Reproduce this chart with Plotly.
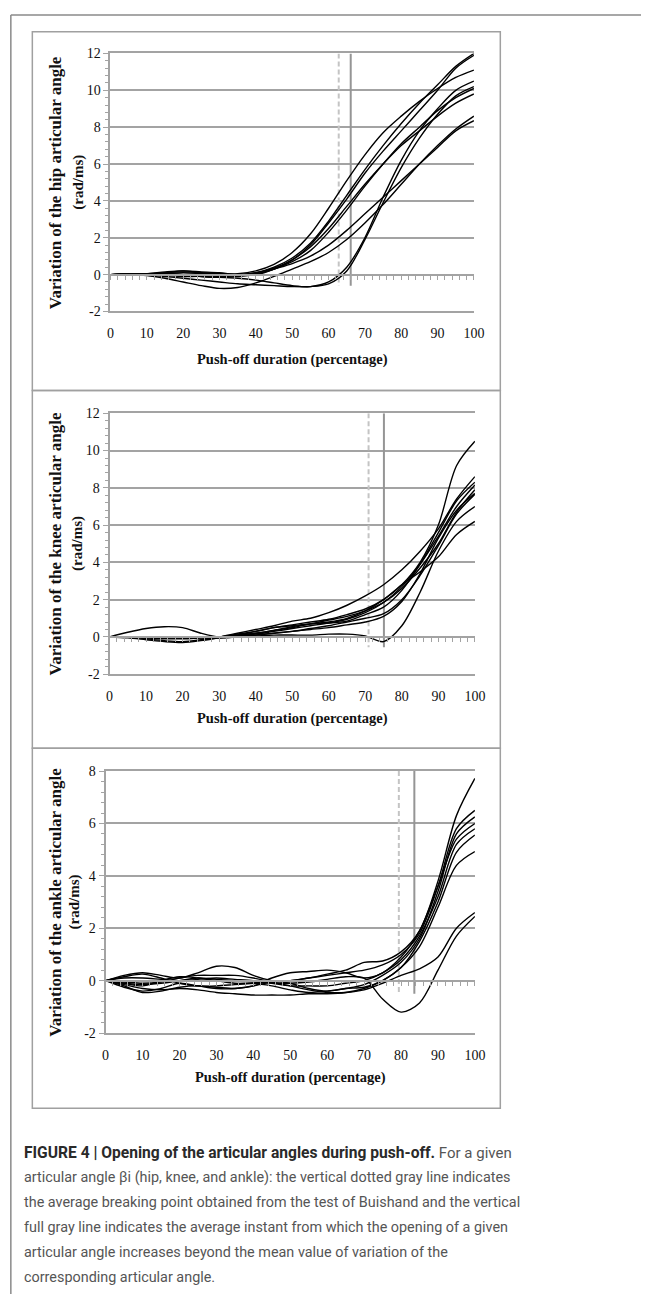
import plotly.graph_objects as go

W, H = 652, 1302

# ---------------- data ----------------
x_pct = [0, 5, 10, 15, 20, 25, 30, 35, 40, 45, 50, 55, 60, 65, 70, 75, 80, 85, 90, 95, 100]

hip_curves = [
    [0, 0.05, 0.05, 0.1, 0.15, 0.1, 0.05, 0.05, 0.2, 0.55, 1.2, 2.2, 3.6, 5.1, 6.5, 7.7, 8.6, 9.4, 10.1, 10.7, 11.1],
    [0, 0, 0, 0.05, 0.1, 0.05, 0, 0, 0.1, 0.4, 0.9, 1.7, 2.9, 4.3, 5.7, 7.0, 8.2, 9.3, 10.3, 11.3, 12.0],
    [0, 0.05, 0, 0, 0, -0.05, -0.1, -0.05, 0.1, 0.35, 0.8, 1.6, 2.8, 4.1, 5.5, 6.7, 7.8, 8.9, 10.0, 11.2, 11.9],
    [0, 0, 0, 0.1, 0.2, 0.15, 0.1, 0, 0, 0.3, 0.8, 1.5, 2.5, 3.7, 4.9, 6.0, 7.0, 7.8, 8.6, 9.3, 9.8],
    [0, 0, 0.05, 0.05, 0, -0.1, -0.15, -0.1, 0, 0.3, 0.6, 1.0, 1.6, 2.4, 3.3, 4.2, 5.1, 6.0, 6.9, 7.8, 8.35],
    [0, 0, 0, -0.1, -0.2, -0.3, -0.4, -0.5, -0.55, -0.6, -0.65, -0.65, -0.5, 0.2, 1.9, 3.9, 5.8, 7.4, 8.7, 9.7, 10.2],
    [0, 0, -0.05, -0.2, -0.4, -0.6, -0.75, -0.7, -0.45, -0.1, 0.3, 0.7, 1.2, 1.9, 2.8, 3.8, 4.9, 6.0, 7.0, 7.9, 8.6],
    [0, 0, 0, -0.05, -0.1, -0.1, -0.15, -0.2, -0.3, -0.45, -0.6, -0.65, -0.4, 0.4, 2.0, 4.2, 6.2, 7.8, 9.0, 10.0, 10.5],
    [0, 0.05, 0.05, 0.15, 0.2, 0.1, 0.05, 0, 0.05, 0.3, 0.7, 1.3, 2.3, 3.5, 4.8, 6.0, 7.1, 8.0, 8.9, 9.6, 10.1],
]

knee_curves = [
    [0, 0, -0.1, -0.2, -0.25, -0.15, 0, 0.2, 0.4, 0.6, 0.85, 1.0, 1.3, 1.7, 2.2, 2.8, 3.6, 4.6, 5.8, 7.4, 8.6],
    [0, 0, -0.05, -0.1, -0.1, -0.05, 0, 0.15, 0.3, 0.5, 0.65, 0.8, 0.95, 1.2, 1.5, 2.0, 2.8, 4.0, 6.0, 9.2, 10.5],
    [0, 0.25, 0.45, 0.55, 0.5, 0.2, 0, 0.05, 0.15, 0.3, 0.45, 0.6, 0.75, 0.95, 1.3, 1.85, 2.7, 3.9, 5.4, 7.0, 8.15],
    [0, 0, 0, -0.05, -0.05, 0, 0, 0.1, 0.3, 0.5, 0.6, 0.7, 0.75, 0.85, 1.2, 1.6, 2.5, 3.9, 5.6, 7.3, 8.3],
    [0, -0.05, -0.15, -0.25, -0.3, -0.2, -0.05, 0.1, 0.2, 0.35, 0.5, 0.7, 0.9, 1.1, 1.4, 1.85, 2.6, 3.7, 5.0, 6.7, 7.9],
    [0, 0, 0, 0, -0.05, -0.05, -0.05, 0, 0.1, 0.2, 0.3, 0.45, 0.6, 0.8, 1.0, 1.25, 2.0, 3.3, 4.9, 6.6, 7.65],
    [0, 0, 0, -0.05, -0.05, 0, 0, 0.1, 0.2, 0.35, 0.55, 0.7, 0.8, 1.0, 1.4, 2.0, 2.8, 3.5, 4.3, 5.5, 6.2],
    [0, 0, 0, 0, 0, -0.05, -0.05, 0, 0.05, 0.1, 0.1, 0.1, 0.15, 0.15, 0.05, -0.25, 0.6, 2.4, 4.6, 6.2, 7.0],
    [0, 0, 0, 0, 0, 0, 0, 0.05, 0.1, 0.2, 0.3, 0.4, 0.5, 0.65, 0.8, 1.1, 1.9, 3.4, 5.3, 6.8, 7.7],
]

ankle_curves = [
    [0, 0.15, 0.25, 0.1, -0.1, -0.2, -0.2, -0.15, -0.1, -0.05, 0, 0.1, 0.25, 0.4, 0.7, 0.75, 1.1, 1.9, 3.8, 6.3, 7.72],
    [0, -0.2, -0.45, -0.4, -0.25, -0.2, -0.25, -0.3, -0.2, -0.05, 0.0, 0.1, 0.2, 0.3, 0.4, 0.6, 1.0, 1.8, 3.6, 5.8, 6.5],
    [0, -0.1, -0.2, 0, 0.15, 0.1, 0.0, -0.1, -0.1, -0.2, -0.35, -0.45, -0.4, -0.3, -0.15, 0.2, 0.7, 1.6, 3.4, 5.6, 6.25],
    [0, 0.1, 0.1, 0.05, 0.0, 0.05, 0.1, 0.05, 0, -0.1, -0.2, -0.2, -0.2, -0.1, 0, 0.3, 0.8, 1.7, 3.2, 5.2, 5.8],
    [0, -0.15, -0.3, -0.35, -0.3, -0.35, -0.45, -0.5, -0.55, -0.55, -0.55, -0.5, -0.5, -0.45, -0.3, 0.0, 0.5, 1.5, 3.0, 4.9, 5.56],
    [0, 0.2, 0.3, 0.2, 0.1, 0.3, 0.55, 0.5, 0.2, 0, -0.1, -0.3, -0.4, -0.3, -0.25, 0.0, 0.5, 1.3, 2.8, 4.4, 4.93],
    [0, -0.05, -0.1, -0.05, 0.1, 0.2, 0.2, 0.2, 0.1, -0.05, -0.2, -0.35, -0.45, -0.45, -0.35, -0.1, 0.2, 0.45, 0.9, 2.0, 2.6],
    [0, -0.1, -0.15, -0.1, 0, 0.1, 0.05, 0, -0.05, -0.1, -0.1, -0.05, 0.05, 0.15, 0.1, -0.7, -1.2, -0.85, 0.4, 1.7, 2.45],
    [0, -0.25, -0.4, -0.3, -0.1, -0.2, -0.3, -0.3, -0.2, 0.1, 0.3, 0.35, 0.4, 0.3, 0.1, 0.3, 0.9, 1.9, 3.6, 5.4, 6.0],
]

breakpoints = [62.8, 70.9, 79.4]     # dashed gray (Buishand test)
openings = [66.1, 75.1, 83.6]        # full gray
vline_bottom = [-0.6, -0.55, -0.5]

y_ranges = [(-2, 12), (-2, 12), (-2, 8)]
y_tickvals = [[-2, 0, 2, 4, 6, 8, 10, 12], [-2, 0, 2, 4, 6, 8, 10, 12], [-2, 0, 2, 4, 6, 8]]
y_ticktext = [["-2", "0", "2", "4", "6", "8", "10", "12"],
              ["-2", "0", "2", "4", "6", "8", "10", "12"],
              ["-2", "0", "2", "4", "6", "8"]]
x_ticks = [0, 10, 20, 30, 40, 50, 60, 70, 80, 90, 100]
y_titles = ["Variation of the hip articular angle",
            "Variation of the knee articular angle",
            "Variation of the ankle articular angle"]
y_subtitle = "(rad/ms)"
x_title = "Push-off duration (percentage)"

caption_bold = "FIGURE 4 | Opening of the articular angles during push-off."
caption_lines = [
    " For a given",
    "articular angle βi (hip, knee, and ankle): the vertical dotted gray line indicates",
    "the average breaking point obtained from the test of Buishand and the vertical",
    "full gray line indicates the average instant from which the opening of a given",
    "articular angle increases beyond the mean value of variation of the",
    "corresponding articular angle.",
]

# ---------------- layout geometry (pixels) ----------------
panels_px = [dict(x0=109, x1=481, y0=47, y1=308, xt=357, t1=53, t2=76),
             dict(x0=108, x1=482, y0=411, y1=675, xt=720, t1=53, t2=75),
             dict(x0=104, x1=482, y0=773, y1=1038, xt=1083, t1=52, t2=72)]
frames_px = [(29, 25, 508, 388), (29, 388, 508, 750), (29, 750, 508, 1114)]
caption_y = [1159, 1184, 1209, 1235, 1260, 1285]


def fx(p):
    return p / W


def fy(p):
    return 1 - p / H


GRID = "#a3a3a3"
SERIF = "Liberation Serif, Times New Roman, serif"
SANS = "Roboto, Liberation Sans, Arial, sans-serif"

fig = go.Figure()
layout = dict(width=W, height=H, margin=dict(l=0, r=0, t=0, b=0),
              paper_bgcolor="white", plot_bgcolor="white", showlegend=False)

shapes = []
annotations = []
all_curves = [hip_curves, knee_curves, ankle_curves]

for i in range(3):
    n = i + 1
    xa = "x" if n == 1 else f"x{n}"
    ya = "y" if n == 1 else f"y{n}"
    p = panels_px[i]
    ymin, ymax = y_ranges[i]
    ydom = [fy(p["y1"]), fy(p["y0"])]
    xdom = [fx(p["x0"]), fx(p["x1"])]

    # vertical reference lines
    fig.add_trace(go.Scatter(x=[breakpoints[i], breakpoints[i]], y=[ymax, vline_bottom[i]],
                             mode="lines", xaxis=xa, yaxis=ya, hoverinfo="skip",
                             line=dict(color="#c4c4c4", width=2, dash="5px,3px")))
    fig.add_trace(go.Scatter(x=[openings[i], openings[i]], y=[ymax, vline_bottom[i]],
                             mode="lines", xaxis=xa, yaxis=ya, hoverinfo="skip",
                             line=dict(color="#959595", width=2)))

    for c in all_curves[i]:
        fig.add_trace(go.Scatter(x=x_pct, y=c, mode="lines", xaxis=xa, yaxis=ya,
                                 line=dict(color="black", width=1.4, shape="spline", smoothing=0.9)))

    layout["xaxis" if n == 1 else f"xaxis{n}"] = dict(
        domain=xdom, anchor=ya, range=[0, 100], tickvals=x_ticks, ticks="",
        showgrid=False, zeroline=False, showline=True, linecolor=GRID, linewidth=2,
        mirror=True, tickfont=dict(family=SERIF, size=14, color="#111"),
        ticklabelstandoff=8)
    layout["yaxis" if n == 1 else f"yaxis{n}"] = dict(
        domain=ydom, anchor=xa, range=[ymin, ymax],
        tickvals=y_tickvals[i], ticktext=y_ticktext[i],
        showgrid=True, gridcolor=GRID, gridwidth=2, zeroline=False,
        showline=True, linecolor=GRID, linewidth=2,
        ticks="outside", ticklen=5, tickcolor=GRID, tickwidth=1,
        minor=dict(dtick=0.4, tick0=0, ticks="outside", ticklen=3, tickcolor=GRID, tickwidth=1,
                   showgrid=False),
        tickfont=dict(family=SERIF, size=14, color="#111"))

    # overlay axis at y = 0 with minor tick marks
    zpos = ydom[0] + (0 - ymin) / (ymax - ymin) * (ydom[1] - ydom[0])
    oname = f"xaxis{n + 3}"
    layout[oname] = dict(domain=xdom, overlaying=xa, anchor="free", position=zpos,
                         range=[0, 100], side="bottom", showgrid=False, zeroline=False,
                         showline=True, linecolor=GRID, linewidth=2,
                         tickmode="linear", tick0=0, dtick=2, ticks="outside", ticklen=4,
                         tickcolor=GRID, tickwidth=1, showticklabels=False)
    fig.add_trace(go.Scatter(x=[0], y=[0], mode="markers", marker=dict(opacity=0),
                             xaxis=f"x{n + 3}", yaxis=ya, hoverinfo="skip"))

    # axis titles
    cy = fy((p["y0"] + p["y1"]) / 2)
    annotations.append(dict(text=f"<b>{y_titles[i]}</b>", x=fx(p["t1"]), y=cy, xref="paper",
                            yref="paper", textangle=-90, showarrow=False, xanchor="center",
                            yanchor="middle", font=dict(family=SERIF, size=17, color="#111")))
    annotations.append(dict(text=f"<b>{y_subtitle}</b>", x=fx(p["t2"]), y=cy, xref="paper",
                            yref="paper", textangle=-90, showarrow=False, xanchor="center",
                            yanchor="middle", font=dict(family=SERIF, size=15, color="#111")))
    annotations.append(dict(text=f"<b>{x_title}</b>", x=fx((p["x0"] + p["x1"]) / 2), y=fy(p["xt"]),
                            xref="paper", yref="paper", showarrow=False, xanchor="center",
                            yanchor="middle", font=dict(family=SERIF, size=14.5, color="#111")))

for (x0, y0, x1, y1) in frames_px:
    shapes.append(dict(type="rect", xref="paper", yref="paper", x0=fx(x0), x1=fx(x1),
                       y0=fy(y1), y1=fy(y0), line=dict(color="#a0a0a0", width=1.5)))

# outer figure frame (left and top edges)
shapes.append(dict(type="line", xref="paper", yref="paper", x0=fx(7), x1=fx(7), y0=0, y1=fy(8),
                   line=dict(color="#8a8a8a", width=1.5)))
shapes.append(dict(type="line", xref="paper", yref="paper", x0=fx(7), x1=1, y0=fy(8), y1=fy(8),
                   line=dict(color="#8a8a8a", width=1.5)))

for k, (t, yy) in enumerate(zip(caption_lines, caption_y)):
    txt = t
    if k == 0:
        txt = (f"<b><span style='color:#2a2a2a;font-size:15.6px'>{caption_bold}</span></b>"
               f"<span style='font-size:15px'>{t}</span>")
    annotations.append(dict(text=txt, x=fx(18), y=fy(yy), xref="paper", yref="paper",
                            showarrow=False, xanchor="left", yanchor="middle",
                            font=dict(family=SANS, size=14.4, color="#555555")))

layout["shapes"] = shapes
layout["annotations"] = annotations
fig.update_layout(**layout)
fig.write_html("out.html")
